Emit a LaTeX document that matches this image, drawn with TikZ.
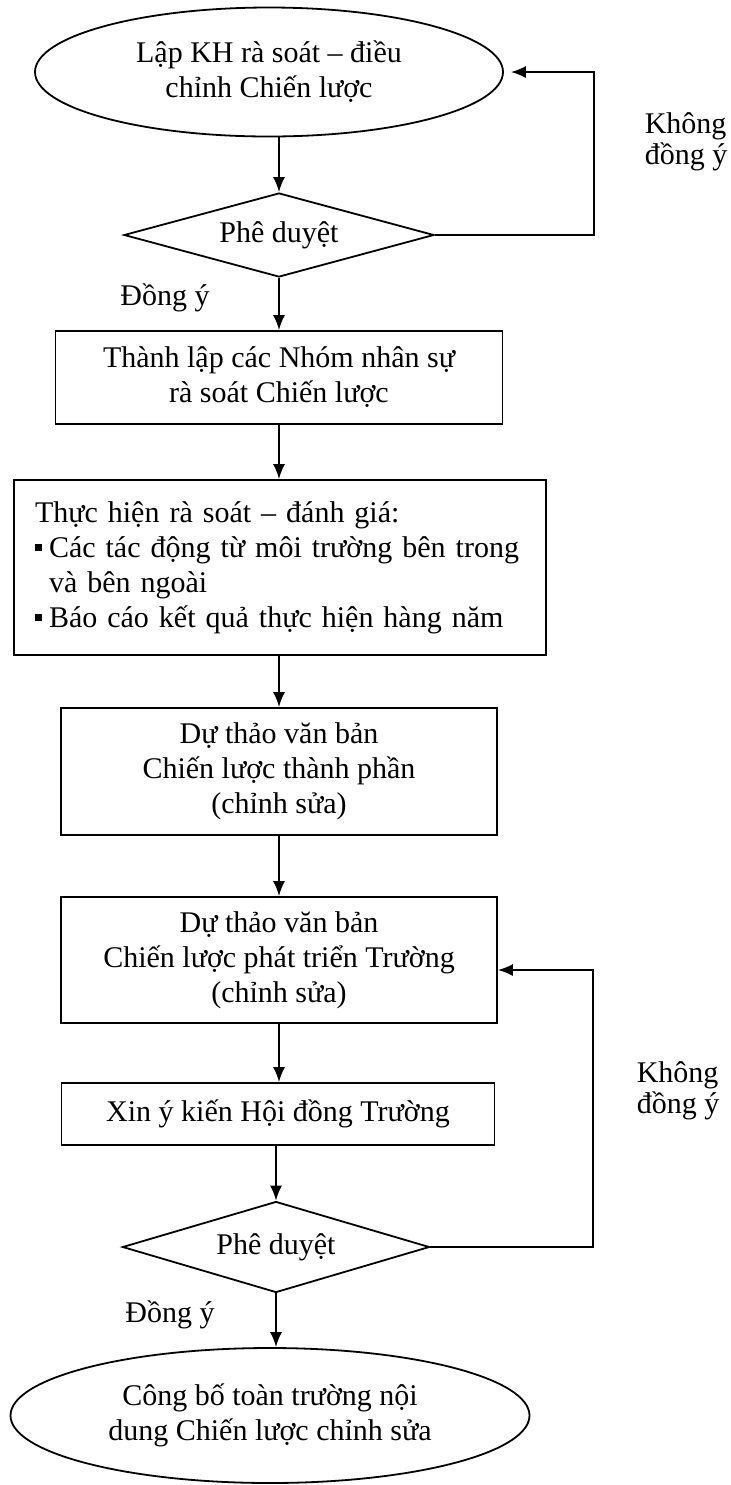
\documentclass[tikz,border=0pt]{standalone}
\usepackage{fontspec}
\setmainfont{Liberation Serif}
\usepackage{tikz}
\usetikzlibrary{shapes.geometric,arrows.meta}
\newcommand{\sqbullet}{\makebox[7pt][l]{\rule[3pt]{3.5pt}{3.5pt}}}

\begin{document}
\begin{tikzpicture}[x=0.5pt,y=-0.5pt,
  font=\fontsize{15}{17.5}\selectfont,
  box/.style={draw,line width=0.9pt,align=center,inner sep=2pt},
  oval/.style={draw,line width=0.9pt,ellipse,align=center,inner sep=0pt},
  check/.style={draw,line width=0.9pt,diamond,aspect=3.5,inner sep=1pt},
  flow/.style={-{Latex[length=7.5pt,width=6pt]},line width=0.9pt},
  note/.style={align=left,font=\fontsize{15}{15.5}\selectfont}]
\useasboundingbox (0,0) rectangle (731,1485);
\path node (lap) at (269,72) [oval,minimum width=234pt,minimum height=64.5pt] {Lập KH rà soát – điều\\chỉnh Chiến lược}
      node (duyet1) at (279,235) [check,minimum width=155pt,minimum height=42pt] {Phê duyệt}
      node (nhom) at (279,377.5) [box,minimum width=223.5pt,minimum height=46.5pt] {Thành lập các Nhóm nhân sự\\rà soát Chiến lược}
      node (danhgia) at (280,567.5) [box,minimum width=266pt,minimum height=87.5pt,text width=245pt,inner xsep=10.5pt,align=left]
        {\begin{tabular}{@{}l@{}}
         Thực hiện rà soát – đánh giá:\\
         \sqbullet Các tác động từ môi trường bên trong\\
         \hspace*{7pt}và bên ngoài\\
         \sqbullet Báo cáo kết quả thực hiện hàng năm
         \end{tabular}}
      node (tp) at (279,771.5) [box,minimum width=218pt,minimum height=63.5pt] {Dự thảo văn bản\\Chiến lược thành phần\\(chỉnh sửa)}
      node (truong) at (279,960) [box,minimum width=218pt,minimum height=63pt] {Dự thảo văn bản\\Chiến lược phát triển Trường\\(chỉnh sửa)}
      node (hoidong) at (278,1114) [box,minimum width=216.5pt,minimum height=31pt] {Xin ý kiến Hội đồng Trường}
      node (duyet2) at (276,1247) [check,minimum width=153.5pt,minimum height=45.5pt] {Phê duyệt}
      node (congbo) at (270,1415.5) [oval,minimum width=259.5pt,minimum height=67.5pt] {Công bố toàn trường nội\\dung Chiến lược chỉnh sửa};
% main flow
\draw [flow] (duyet1.north |- lap.south) -- (duyet1.north);
\draw [flow] (duyet1.south) -- (duyet1.south |- nhom.north);
\draw [flow] (nhom.south) -- (nhom.south |- danhgia.north);
\draw [flow] (danhgia.south -| tp.north) -- (tp.north);
\draw [flow] (tp.south) -- (truong.north);
\draw [flow] (truong.south) -- (truong.south |- hoidong.north);
\draw [flow] (duyet2.north |- hoidong.south) -- (duyet2.north);
\draw [flow] (duyet2.south) -- (duyet2.south |- congbo.north);
% loops back
\coordinate (ret1) at (594,72);
\coordinate (ret2) at (593,970);
\draw [flow] (duyet1.east) -| (ret1) -- ([xshift=3.5pt]lap.east);
\draw [flow] (duyet2.east) -| (ret2) -- (ret2 -| truong.east);
\node (khong1) at (686,142) [note] {Không\\đồng ý};
\node (khong2) at (678,1091) [note] {Không\\đồng ý};
\node (dy1) at (165,298) {Đồng ý};
\node (dy2) at (170,1315) {Đồng ý};
\end{tikzpicture}
\end{document}
